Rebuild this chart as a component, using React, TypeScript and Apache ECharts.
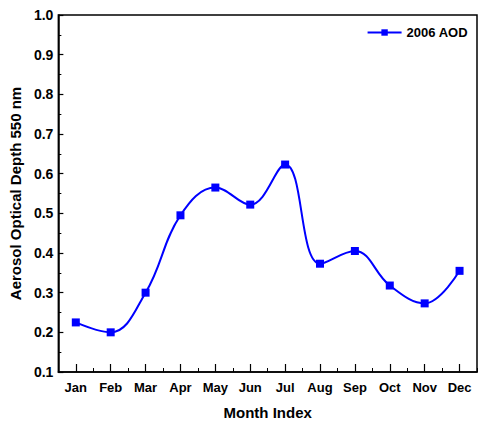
import React, { useEffect, useRef } from "react";
import * as echarts from "echarts";

const months = ["Jan", "Feb", "Mar", "Apr", "May", "Jun", "Jul", "Aug", "Sep", "Oct", "Nov", "Dec"];
const aod2006 = [0.225, 0.2, 0.3, 0.495, 0.565, 0.522, 0.623, 0.373, 0.405, 0.318, 0.273, 0.355];
const seriesName = "2006 AOD";
const yTitle = "Aerosol Optical Depth 550 nm";
const xTitle = "Month Index";

const FONT = "'Liberation Sans', Arial, sans-serif";

export default function App() {
  const ref = useRef<HTMLDivElement>(null);
  useEffect(() => {
    if (!ref.current) return;
    const chart = echarts.init(ref.current, undefined, { renderer: "svg" });
    chart.setOption({
      animation: false,
      backgroundColor: "#ffffff",
      textStyle: { fontFamily: FONT },
      grid: {
        left: 56,
        top: 15,
        right: 8,
        bottom: 49,
        show: true,
        borderColor: "#000",
        borderWidth: 1.5,
        backgroundColor: "transparent",
      },
      legend: {
        right: 12,
        top: 21,
        itemWidth: 34,
        itemHeight: 8,
        itemGap: 4,
        textStyle: { fontFamily: FONT, fontWeight: "bold", fontSize: 13, color: "#000" },
        data: [{ name: seriesName }],
      },
      xAxis: [
        {
          type: "category",
          data: months,
          boundaryGap: true,
          axisLine: { lineStyle: { color: "#000", width: 1.5 } },
          axisTick: { show: true, interval: 0, alignWithLabel: true, inside: true, length: 8, lineStyle: { color: "#000", width: 1.2 } },
          axisLabel: { interval: 0, color: "#000", fontFamily: FONT, fontWeight: "bold", fontSize: 13, margin: 9 },
          name: xTitle,
          nameLocation: "middle",
          nameGap: 33,
          nameTextStyle: { color: "#000", fontFamily: FONT, fontWeight: "bold", fontSize: 15 },
          splitLine: { show: false },
        },
        {
          type: "category",
          data: months,
          boundaryGap: true,
          position: "bottom",
          axisLine: { show: false },
          axisTick: { show: true, interval: 0, alignWithLabel: false, inside: true, length: 4, lineStyle: { color: "#000", width: 1 } },
          axisLabel: { show: false },
          splitLine: { show: false },
        },
      ],
      yAxis: {
        type: "value",
        min: 0.1,
        max: 1.0,
        interval: 0.1,
        axisLine: { show: true, lineStyle: { color: "#000", width: 1.5 } },
        axisTick: { show: true, inside: true, length: 5, lineStyle: { color: "#000", width: 1.2 } },
        minorTick: { show: true, splitNumber: 2, length: 3, lineStyle: { color: "#000", width: 1 } },
        axisLabel: {
          color: "#000",
          fontFamily: FONT,
          fontWeight: "bold",
          fontSize: 14,
          margin: 5,
          formatter: (v: number) => v.toFixed(1),
        },
        splitLine: { show: false },
        name: yTitle,
        nameLocation: "middle",
        nameGap: 24,
        nameTextStyle: { color: "#000", fontFamily: FONT, fontWeight: "bold", fontSize: 15 },
      },
      series: [
        {
          name: seriesName,
          type: "line",
          data: aod2006,
          smooth: 0.4,
          symbol: "rect",
          symbolSize: 8,
          lineStyle: { color: "#0000ff", width: 2 },
          itemStyle: { color: "#0000ff" },
        },
      ],
    });
    return () => chart.dispose();
  }, []);
  return (
    <div
      ref={ref}
      style={{ position: "fixed", left: 0, top: 0, width: 485, height: 425, background: "#fff" }}
    />
  );
}
